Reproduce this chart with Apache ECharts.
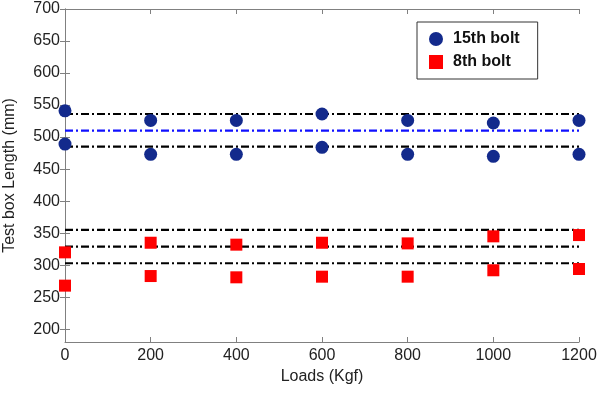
<!DOCTYPE html>
<html>
<head>
<meta charset="utf-8">
<script src="https://cdn.jsdelivr.net/npm/echarts@6/dist/echarts.min.js"></script>
<style>
html,body{margin:0;padding:0;background:#fff;}
#chart{width:600px;height:395px;}
</style>
</head>
<body>
<div id="chart"></div>
<script>
// ---- data ----
var loads = [0, 200, 400, 600, 800, 1000, 1200];
var bolt15Upper = [541, 526, 526, 536, 526, 522, 526];
var bolt15Lower = [489, 473, 473, 484, 473, 470, 473];
var bolt8Upper = [320, 335, 332, 335, 334, 345, 347];
var bolt8Lower = [268, 283, 281, 282, 282, 292, 294];
var bolt15Bounds = [536, 485];
var bolt15Mean = [510];
var bolt8Levels = [355, 329, 303];
var yTicks = [200, 250, 300, 350, 400, 450, 500, 550, 600, 650, 700];
var xRange = [0, 1200];
var seriesNames = ['15th bolt', '8th bolt'];

var FONT = '"Liberation Sans", Arial, sans-serif';

function pts(xs, ys) {
  return xs.map(function (x, i) { return [x, ys[i]]; });
}
function levelLine(v, color) {
  return {
    type: 'line',
    data: [[xRange[0], v], [xRange[1], v]],
    symbol: 'none',
    silent: true,
    z: 1,
    lineStyle: { color: color, width: 2.2, type: [8, 3, 2, 3] },
    tooltip: { show: false }
  };
}

var series = [];
bolt15Bounds.forEach(function (v) { series.push(levelLine(v, '#000000')); });
bolt15Mean.forEach(function (v) { series.push(levelLine(v, '#1010ff')); });
bolt8Levels.forEach(function (v) { series.push(levelLine(v, '#000000')); });

series.push({
  name: seriesNames[0],
  type: 'scatter',
  symbol: 'circle',
  symbolSize: 13,
  clip: false,
  z: 5,
  itemStyle: { color: '#132a8c', opacity: 1 },
  data: pts(loads, bolt15Upper).concat(pts(loads, bolt15Lower))
});
series.push({
  name: seriesNames[1],
  type: 'scatter',
  symbol: 'rect',
  symbolSize: 12,
  clip: false,
  z: 5,
  itemStyle: { color: '#ff0000', opacity: 1 },
  data: pts(loads, bolt8Upper).concat(pts(loads, bolt8Lower))
});

var axisLineStyle = { color: '#808080', width: 1 };

var option = {
  animation: false,
  backgroundColor: '#ffffff',
  grid: { left: 65, right: 21, top: 9, bottom: 53, containLabel: false, outerBoundsMode: 'none' },
  legend: {
    data: [
      { name: seriesNames[0], icon: 'circle' },
      { name: seriesNames[1], icon: 'rect' }
    ],
    orient: 'vertical',
    left: 417,
    top: 22,
    padding: [9, 18, 9, 12],
    itemGap: 7,
    itemWidth: 14,
    itemHeight: 14,
    borderColor: '#333333',
    borderWidth: 1,
    backgroundColor: '#ffffff',
    textStyle: { fontFamily: FONT, fontSize: 16, fontWeight: 'bold', color: '#111111', padding: [0, 0, 0, 5] }
  },
  xAxis: [
    {
      type: 'value',
      min: xRange[0],
      max: xRange[1],
      interval: 200,
      name: 'Loads (Kgf)',
      nameLocation: 'middle',
      nameGap: 26,
      nameTextStyle: { fontFamily: FONT, fontSize: 16, color: '#222222' },
      axisLine: { show: true, lineStyle: axisLineStyle },
      axisTick: { show: true, inside: true, length: 5, lineStyle: axisLineStyle },
      axisLabel: {
        fontFamily: FONT, fontSize: 16, color: '#222222', margin: 6,
        formatter: function (v) { return String(v); }
      },
      splitLine: { show: false }
    },
    {
      type: 'value',
      position: 'top',
      min: xRange[0],
      max: xRange[1],
      interval: 200,
      axisLine: { show: true, lineStyle: axisLineStyle },
      axisTick: { show: true, inside: true, length: 5, lineStyle: axisLineStyle },
      axisLabel: { show: false },
      splitLine: { show: false }
    }
  ],
  yAxis: [
    {
      type: 'value',
      min: 180,
      max: 700,
      name: 'Test box Length (mm)',
      nameLocation: 'middle',
      nameGap: 47,
      nameTextStyle: { fontFamily: FONT, fontSize: 16, color: '#222222' },
      axisLine: { show: true, lineStyle: axisLineStyle },
      axisTick: { show: true, inside: true, length: 5, lineStyle: axisLineStyle, customValues: yTicks },
      axisLabel: { fontFamily: FONT, fontSize: 16, color: '#222222', margin: 5, customValues: yTicks },
      splitLine: { show: false }
    },
    {
      type: 'value',
      position: 'right',
      min: 180,
      max: 700,
      axisLine: { show: true, lineStyle: axisLineStyle },
      axisTick: { show: true, inside: true, length: 5, lineStyle: axisLineStyle, customValues: yTicks },
      axisLabel: { show: false },
      splitLine: { show: false }
    }
  ],
  series: series
};

var chart = echarts.init(document.getElementById('chart'), null, { renderer: 'canvas' });
chart.setOption(option);
</script>
</body>
</html>
